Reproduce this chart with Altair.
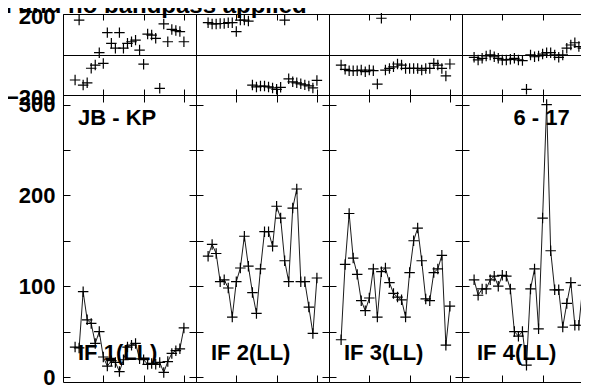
import altair as alt
import pandas as pd

# ---------------- data ----------------
CHANNELS = list(range(3, 31))  # 28 spectral channels per IF
IF_LABELS = ["IF 1(LL)", "IF 2(LL)", "IF 3(LL)", "IF 4(LL)"]
BASELINE_LABEL = "JB - KP"
ANTENNA_LABEL = "6 - 17"
TITLE = "Calibration applied and no bandpass applied"

AMP_IF1 = [33, 32, 94, 63, 59, 37, 50, 22, 12, 18, 16, 6, 19, 33, 35, 37, 20, 19, 14, 15, 14, 16, 5, 17, 26, 29, 31, 54]
AMP_IF2 = [133, 146, 136, 105, 107, 98, 66, 105, 120, 155, 122, 93, 70, 119, 160, 160, 144, 188, 175, 128, 105, 186, 207, 105, 105, 77, 48, 109]
AMP_IF3 = [41, 124, 180, 131, 113, 84, 73, 87, 119, 66, 116, 120, 104, 92, 88, 85, 66, 115, 150, 164, 128, 86, 84, 115, 119, 134, 35, 78]
AMP_IF4 = [107, 90, 97, 97, 107, 111, 100, 112, 111, 97, 50, 45, 50, 13, 97, 119, 53, 175, 300, 139, 96, 96, 55, 81, 104, 57, 57, 101]

PHASE_IF1 = [-126, 170, -151, -140, -68, -52, 9, -44, 108, 55, 31, 108, 31, 55, 63, 71, 22, -48, 101, 96, 80, -167, 151, 63, 124, 118, 113, 63]
PHASE_IF2 = [157, 151, 151, 153, 153, 157, 157, 113, 170, 170, 165, -151, -160, -156, -156, -160, -165, -172, -162, 170, -120, -135, -140, -145, -150, -155, -165, -128]
PHASE_IF3 = [-52, -73, -80, -80, -80, -77, -85, -77, -80, -146, 179, -77, -69, -61, -47, -52, -69, -69, -69, -69, -77, -69, -69, -44, -52, -69, -106, -47]
PHASE_IF4 = [-14, -27, -19, -7, -2, -11, -19, -27, -27, -24, -19, -27, -30, -172, -2, -11, -7, 2, 9, 9, -2, -14, -2, 31, 47, 58, 39, 31]

AMPS = [AMP_IF1, AMP_IF2, AMP_IF3, AMP_IF4]
PHASES = [PHASE_IF1, PHASE_IF2, PHASE_IF3, PHASE_IF4]

X_TICKS = [10, 20, 30]
PHASE_TICKS = [-200, 0, 200]
AMP_TICKS = [0, 50, 100, 150, 200, 250, 300]

# ---------------- styling ----------------
W = 133
H_PHASE = 81
H_AMP = 287
FONT = "Liberation Sans"
CROSS = "M-1,0L1,0M0,-1L0,1"


def x_enc(dash):
    return alt.X(
        "chan:Q",
        scale=alt.Scale(domain=[0, 33], nice=False, zero=False),
        axis=alt.Axis(values=X_TICKS, labels=False, ticks=False, domain=False, title=None,
                      grid=True, gridDash=dash, gridColor="black", gridOpacity=1, gridWidth=1),
    )


def phase_panel(k):
    df = pd.DataFrame({"chan": CHANNELS, "phase": PHASES[k]})
    first = k == 0
    axis_kw = dict(values=PHASE_TICKS, ticks=False, domain=False, title=None, grid=True,
                   gridColor="black", gridOpacity=1, gridWidth=1, labels=first)
    if first:
        axis_kw.update(labelExpr="datum.value == 0 ? '' : datum.label", labelOffset=2)
    y = alt.Y("phase:Q", scale=alt.Scale(domain=[-200, 200], nice=False, zero=False),
              axis=alt.Axis(**axis_kw))
    pts = alt.Chart(df).mark_point(shape=CROSS, size=110, color="black", strokeWidth=1.2,
                                   opacity=1, filled=False).encode(x=x_enc([6, 69, 6]), y=y)
    layers = [pts]
    if first:
        tdf = pd.DataFrame({"t": [TITLE]})
        layers.append(
            alt.Chart(tdf).mark_text(font=FONT, fontSize=24, fontWeight="bold", color="black",
                                     align="right", baseline="alphabetic")
            .encode(text="t:N", x=alt.value(243.7), y=alt.value(-1))
        )
    return alt.layer(*layers).properties(width=W, height=H_PHASE)


def amp_panel(k):
    df = pd.DataFrame({"chan": CHANNELS, "amp": AMPS[k]})
    first = k == 0
    axis_kw = dict(values=AMP_TICKS, ticks=False, domain=False, title=None, grid=True,
                   gridColor="black", gridOpacity=1, gridWidth=1, gridDash=[7, 119, 7],
                   labels=first)
    if first:
        axis_kw.update(labelExpr="datum.value % 100 == 0 ? datum.label : ''")
    x = x_enc([7, 273, 7])
    y = alt.Y("amp:Q", scale=alt.Scale(domain=[-5.5, 310.5], nice=False, zero=False),
              axis=alt.Axis(**axis_kw))
    base = alt.Chart(df).encode(x=x, y=y)
    line = base.mark_line(color="black", strokeWidth=0.9)
    pts = base.mark_point(shape=CROSS, size=110, color="black", strokeWidth=1.2,
                          opacity=1, filled=False)
    layers = [line, pts]
    ldf = pd.DataFrame({"t": [IF_LABELS[k]]})
    layers.append(
        alt.Chart(ldf).mark_text(font=FONT, fontSize=22, fontWeight="bold", color="black",
                                 align="left", baseline="middle")
        .encode(text="t:N", x=alt.value(15), y=alt.value(258))
    )
    if k == 0:
        bdf = pd.DataFrame({"t": [BASELINE_LABEL]})
        layers.append(
            alt.Chart(bdf).mark_text(font=FONT, fontSize=22, fontWeight="bold", color="black",
                                     align="left", baseline="middle")
            .encode(text="t:N", x=alt.value(15), y=alt.value(23))
        )
    if k == 3:
        adf = pd.DataFrame({"t": [ANTENNA_LABEL]})
        layers.append(
            alt.Chart(adf).mark_text(font=FONT, fontSize=22, fontWeight="bold", color="black",
                                     align="left", baseline="middle")
            .encode(text="t:N", x=alt.value(51.5), y=alt.value(23))
        )
    return alt.layer(*layers).properties(width=W, height=H_AMP)


panels = [phase_panel(k) for k in range(4)] + [amp_panel(k) for k in range(4)]

chart = (
    alt.concat(*panels, columns=4, spacing=0, bounds="flush")
    .properties(autosize=alt.AutoSizeParams(type="none"),
                padding={"left": 55, "top": 6, "right": 518, "bottom": 372})
    .configure_view(stroke="black", strokeWidth=1)
    .configure_axis(labelFont=FONT, labelFontSize=22, labelFontWeight="bold",
                    labelColor="black", labelPadding=8)
)

chart.save("out.html", embed_options={"renderer": "svg", "actions": False})
